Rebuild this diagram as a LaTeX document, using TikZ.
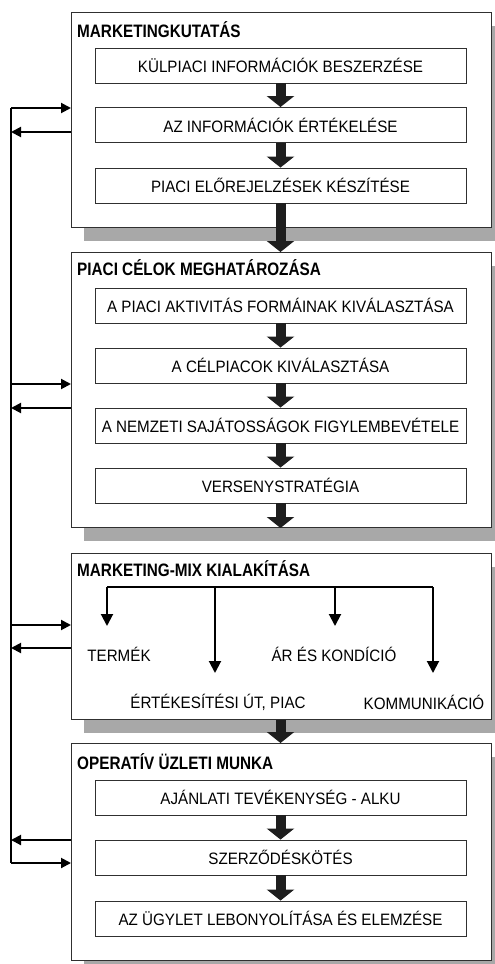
\documentclass[tikz,border=0pt]{standalone}
\usepackage{fontspec}
\setmainfont{Liberation Sans}
\newfontfamily\innerfont[FakeStretch=0.92]{Liberation Sans}
\newfontfamily\titlefont[FakeStretch=0.85]{Liberation Sans}
\usetikzlibrary{arrows.meta,shadows,calc}
\definecolor{shade}{HTML}{A8A8A8}
\definecolor{edge}{HTML}{303030}
\definecolor{bigarrow}{HTML}{1E1E1E}
\tikzset{
  outerbox/.style={draw=edge, line width=1pt, fill=white, anchor=north west, minimum width=420pt, inner sep=0pt,
    drop shadow={shadow xshift=12pt, shadow yshift=-13pt, opacity=1, fill=shade}},
  innerbox/.style={draw=edge, line width=0.9pt, fill=white, minimum width=371pt, minimum height=35pt, inner sep=0pt,
    font=\innerfont\fontsize{16.5}{19}\selectfont},
  boxtitle/.style={anchor=west, inner sep=0pt, font=\titlefont\bfseries\fontsize{18}{20}\selectfont},
  mixlabel/.style={inner sep=0pt, font=\innerfont\fontsize{16.5}{19}\selectfont},
  flowarrow/.style={draw=bigarrow, line width=10pt, -{Triangle[width=27pt,length=11pt]}},
  fbarrow/.style={draw=black, line width=2pt, -{Triangle[width=10pt,length=10pt]}},
  fbline/.style={draw=black, line width=2pt},
  mixarrow/.style={draw=black, line width=2pt, -{Triangle[width=12pt,length=12pt]}},
}
\begin{document}
\begin{tikzpicture}[x=1pt,y=-1pt]
\useasboundingbox (0,0) rectangle (495,964);
\fill[white] (0,0) rectangle (495,964);

% outer boxes
\node[outerbox, minimum height=215pt] (A) at (71,12) {};
\node[outerbox, minimum height=275pt] (B) at (71,252) {};
\node[outerbox, minimum height=166pt] (C) at (71,553) {};
\node[outerbox, minimum height=217pt] (D) at (71,743) {};

% titles
\node[boxtitle] (At) at (77,30) {MARKETINGKUTATÁS};
\node[boxtitle] (Bt) at (77,268) {PIACI CÉLOK MEGHATÁROZÁSA};
\node[boxtitle] (Ct) at (77,569) {MARKETING-MIX KIALAKÍTÁSA};
\node[boxtitle] (Dt) at (77,762) {OPERATÍV ÜZLETI MUNKA};

% inner boxes
\node[innerbox] (A1) at (280.5,65.5) {KÜLPIACI INFORMÁCIÓK BESZERZÉSE};
\node[innerbox] (A2) at (280.5,125) {AZ INFORMÁCIÓK ÉRTÉKELÉSE};
\node[innerbox] (A3) at (280.5,185.5) {PIACI ELŐREJELZÉSEK KÉSZÍTÉSE};

\node[innerbox] (B1) at (280.5,305.5) {A PIACI AKTIVITÁS FORMÁINAK KIVÁLASZTÁSA};
\node[innerbox] (B2) at (280.5,365.5) {A CÉLPIACOK KIVÁLASZTÁSA};
\node[innerbox] (B3) at (280.5,425.5) {A NEMZETI SAJÁTOSSÁGOK FIGYLEMBEVÉTELE};
\node[innerbox] (B4) at (280.5,485.5) {VERSENYSTRATÉGIA};

\node[innerbox] (D1) at (280.5,797.5) {AJÁNLATI TEVÉKENYSÉG - ALKU};
\node[innerbox] (D2) at (280.5,857.5) {SZERZŐDÉSKÖTÉS};
\node[innerbox] (D3) at (280.5,918.5) {AZ ÜGYLET LEBONYOLÍTÁSA ÉS ELEMZÉSE};

% flow arrows
\draw[flowarrow] (A1.south) -- (A2.north);
\draw[flowarrow] (A2.south) -- (A3.north);
\draw[flowarrow] (A3.south) -- (A3.south |- B.north);
\draw[flowarrow] (B1.south) -- (B2.north);
\draw[flowarrow] (B2.south) -- (B3.north);
\draw[flowarrow] (B3.south) -- (B4.north);
\draw[flowarrow] (B4.south) -- (B4.south |- B.south);
\draw[flowarrow] (B4.south |- C.south) -- (B4.south |- D.north);
\draw[flowarrow] (D1.south) -- (D2.north);
\draw[flowarrow] (D2.south) -- (D3.north);

% marketing-mix
\node[mixlabel] (m1) at (119,654) {TERMÉK};
\node[mixlabel] (m2) at (334,654) {ÁR ÉS KONDÍCIÓ};
\node[mixlabel] (m3) at (218,702) {ÉRTÉKESÍTÉSI ÚT, PIAC};
\node[mixlabel] (m4) at (424,702) {KOMMUNIKÁCIÓ};
\coordinate (k1) at (107,587);
\coordinate (k2) at (215,587);
\coordinate (k3) at (335,587);
\coordinate (k4) at (433,587);
\coordinate (t1) at (107,626);
\coordinate (t2) at (215,673);
\coordinate (t3) at (335,626);
\coordinate (t4) at (433,673);
\draw[fbline] (k1) -- (k4);
\draw[mixarrow] (k1) -- (t1);
\draw[mixarrow] (k2) -- (t2);
\draw[mixarrow] (k3) -- (t3);
\draw[mixarrow] (k4) -- (t4);

% feedback loop
\coordinate (Ltop) at (11,108);
\coordinate (Lbot) at (11,863);
\draw[fbline] (Ltop) -- (Lbot);
\coordinate (a1) at (11,108);
\coordinate (a2) at (11,132);
\coordinate (b1) at (11,384);
\coordinate (b2) at (11,408);
\coordinate (c1) at (11,625);
\coordinate (c2) at (11,648);
\coordinate (d1) at (11,840);
\coordinate (d2) at (11,863);
\draw[fbarrow] (a1) -- (a1 -| A.west);
\draw[fbarrow] (a2 -| A.west) -- (a2);
\draw[fbarrow] (b1) -- (b1 -| B.west);
\draw[fbarrow] (b2 -| B.west) -- (b2);
\draw[fbarrow] (c1) -- (c1 -| C.west);
\draw[fbarrow] (c2 -| C.west) -- (c2);
\draw[fbarrow] (d1 -| D.west) -- (d1);
\draw[fbarrow] (d2) -- (d2 -| D.west);
\end{tikzpicture}
\end{document}
